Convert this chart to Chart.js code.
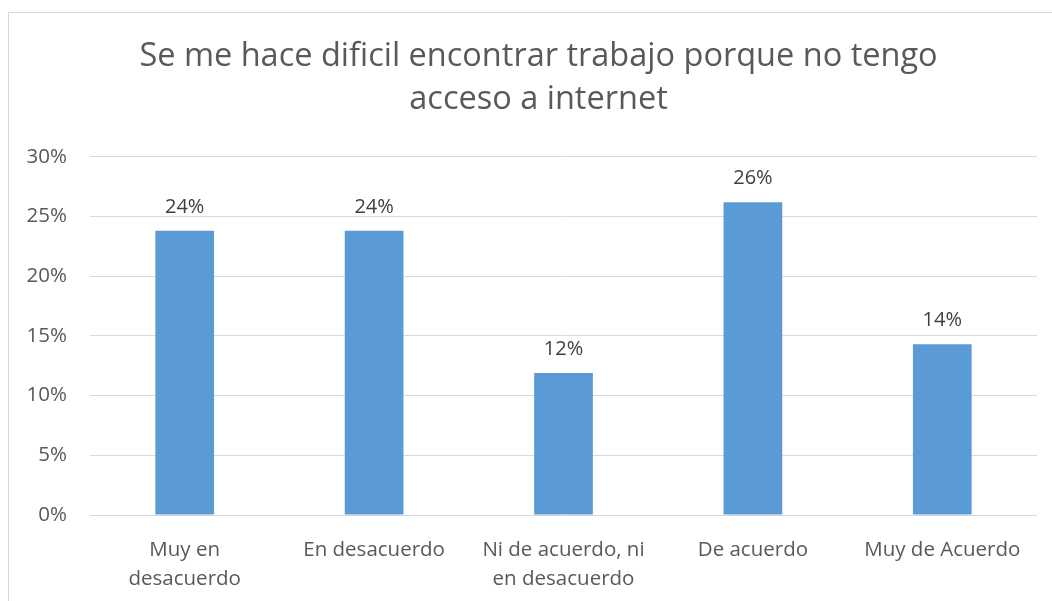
<!DOCTYPE html>
<html>
<head>
<meta charset="utf-8">
<script src="https://cdn.jsdelivr.net/npm/chart.js@4.4.0/dist/chart.umd.min.js"></script>
<style>
  html, body { margin: 0; padding: 0; background: #fff; overflow: hidden; }
  #marco { position: absolute; left: 8px; top: 12px; width: 1200px; height: 800px; border: 1px solid #d9d9d9; }
  #caja { position: absolute; left: 0; top: 0; width: 1052px; height: 601px; }
</style>
</head>
<body>
<div id="marco"></div>
<div id="caja"><canvas id="grafico"></canvas></div>
<script>
const categorias = [
  ['Muy en', 'desacuerdo'],
  'En desacuerdo',
  ['Ni de acuerdo, ni', 'en desacuerdo'],
  'De acuerdo',
  'Muy de Acuerdo'
];
const porcentajes = [23.8, 23.8, 11.9, 26.2, 14.3];
const titulo = ['Se me hace dificil encontrar trabajo porque no tengo', 'acceso a internet'];

const fuente = "'Open Sans', 'Noto Sans', sans-serif";

// etiquetas encima de cada barra
const etiquetasBarras = {
  id: 'etiquetasBarras',
  afterLayout(chart) {
    // el titulo va centrado sobre el area del grafico, no sobre todo el lienzo
    if (chart.titleBlock) chart.titleBlock.left = 40;
  },
  afterDatasetsDraw(chart) {
    const ctx = chart.ctx;
    const meta = chart.getDatasetMeta(0);
    ctx.save();
    ctx.font = '20px ' + fuente;
    ctx.fillStyle = '#404040';
    ctx.textAlign = 'center';
    ctx.textBaseline = 'middle';
    meta.data.forEach((barra, i) => {
      ctx.fillText(Math.round(porcentajes[i]) + '%', barra.x, barra.y - 24);
    });
    ctx.restore();
  }
};

var config = {
  type: 'bar',
  data: {
    labels: categorias,
    datasets: [
      {
        data: porcentajes,
        backgroundColor: '#5B9BD5',
        categoryPercentage: 1,
        barPercentage: 0.31,
      },
    ],
  },
  options: {
    responsive: true,
    maintainAspectRatio: false,
    animation: false,
    layout: { padding: { top: 10, left: 10, right: 15, bottom: 0 } },
    plugins: {
      legend: { display: false },
      tooltip: { enabled: false },
      title: {
        display: true,
        text: titulo,
        color: '#595959',
        font: { family: fuente, size: 32.5, weight: 'normal', lineHeight: 1.32 },
        padding: { top: 25.5, bottom: 35.5 },
      },
    },
    scales: {
      x: {
        grid: { display: false },
        border: { display: false },
        ticks: {
          color: '#595959',
          font: { family: fuente, size: 20.5, lineHeight: 1.45 },
          padding: 12,
          maxRotation: 0,
          autoSkip: false,
        },
        afterFit(axis) { axis.height = 86; },
      },
      y: {
        min: 0,
        max: 30,
        border: { display: false },
        grid: { color: '#d9d9d9', lineWidth: 1, drawTicks: false },
        ticks: {
          stepSize: 5,
          color: '#595959',
          font: { family: fuente, size: 20.5 },
          padding: 23,
          callback: (v) => v + '%',
        },
        afterFit(axis) { axis.width = 80; },
      },
    },
  },
  plugins: [etiquetasBarras],
};

var ctx = document.getElementById('grafico').getContext('2d');
window.miGrafico = new Chart(ctx, config);
</script>
</body>
</html>
